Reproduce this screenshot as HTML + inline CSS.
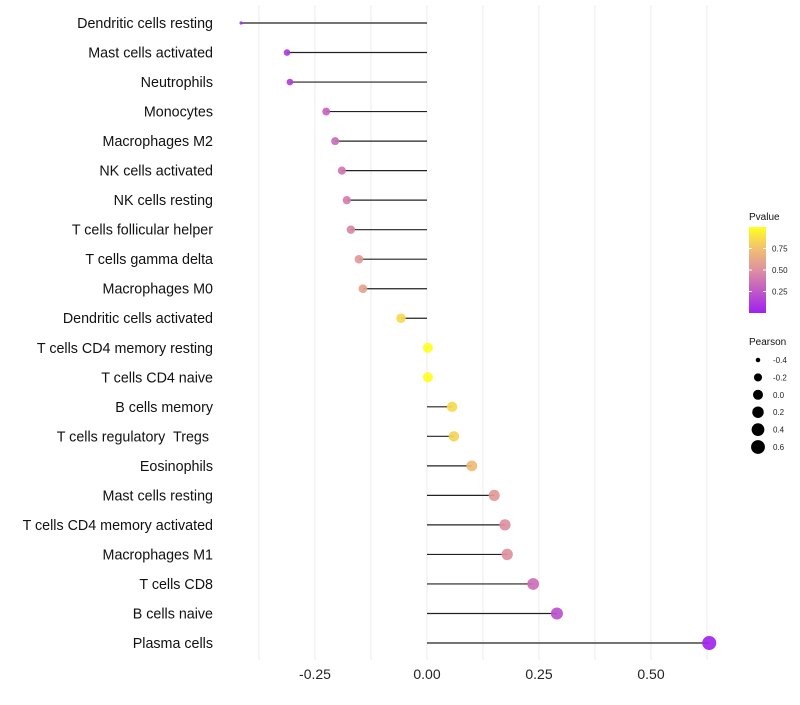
<!DOCTYPE html>
<html><head><meta charset="utf-8"><style>
body{margin:0;background:#fff;}
svg text{font-family:"Liberation Sans",sans-serif;white-space:pre;}
</style></head><body>
<svg id="chart" width="800" height="700" xmlns="http://www.w3.org/2000/svg">
<defs><linearGradient id="pg" x1="0" y1="1" x2="0" y2="0">
<stop offset="0" stop-color="#a020f0"/><stop offset="0.5" stop-color="#de90a0"/><stop offset="0.75" stop-color="#f2c070"/><stop offset="1" stop-color="#ffff20"/></linearGradient></defs>
<g id="grid"></g><g id="marks"></g><g id="labels"></g>
</svg>
<script>
const categories=["Dendritic cells resting","Mast cells activated","Neutrophils","Monocytes","Macrophages M2","NK cells activated","NK cells resting","T cells follicular helper","T cells gamma delta","Macrophages M0","Dendritic cells activated","T cells CD4 memory resting","T cells CD4 naive","B cells memory","T cells regulatory  Tregs ","Eosinophils","Mast cells resting","T cells CD4 memory activated","Macrophages M1","T cells CD8","B cells naive","Plasma cells"];
const pearson=[-0.415,-0.3125,-0.306,-0.225,-0.205,-0.19,-0.179,-0.17,-0.152,-0.143,-0.058,0.002,0.002,0.056,0.06,0.10,0.15,0.174,0.179,0.237,0.29,0.63];
const pvalue=[0.05,0.12,0.14,0.3,0.34,0.38,0.42,0.45,0.55,0.6,0.85,1.0,1.0,0.85,0.83,0.72,0.55,0.5,0.5,0.35,0.22,0.02];
const xTicks=[-0.25,0,0.25,0.5];
const xTickLabels=["-0.25","0.00","0.25","0.50"];
const sizeLegend=[-0.4,-0.2,0.0,0.2,0.4,0.6];
const colorTicks=[0.25,0.5,0.75];
const NS="http://www.w3.org/2000/svg";
const x=v=>427+v*448;
const y=i=>23+i*(620/21);
const pmin=Math.min(...pearson),pmax=Math.max(...pearson);
const r=v=>{const t=Math.max(0,(v-pmin)/(pmax-pmin));return 1.6+5.4*Math.sqrt(t);};
const stops=[[0,[160,32,240]],[0.5,[222,144,160]],[0.75,[242,192,112]],[1,[255,255,32]]];
function col(p){for(let k=1;k<stops.length;k++){if(p<=stops[k][0]){const a=stops[k-1],b=stops[k],t=(p-a[0])/(b[0]-a[0]);return "rgb("+a[1].map((c,j)=>Math.round(c+(b[1][j]-c)*t)).join(",")+")";}}return "rgb(255,255,32)";}
function el(t,a,parent){const e=document.createElementNS(NS,t);for(const k in a)e.setAttribute(k,a[k]);parent.appendChild(e);return e;}
const grid=document.getElementById('grid'),marks=document.getElementById('marks'),labels=document.getElementById('labels');
for(let g=-0.375;g<=0.63;g+=0.125){const l=el('line',{x1:x(g),x2:x(g),y1:5,y2:660,stroke:'#ebebeb','stroke-width':1},grid);

}
xTicks.forEach((v,i)=>{const t=el('text',{x:x(v),y:679,'text-anchor':'middle','font-size':14,fill:'#222'},labels);t.textContent=xTickLabels[i];

});
categories.forEach((c,i)=>{
const t=el('text',{x:213,y:y(i)+5,'text-anchor':'end','font-size':14.3,fill:'#111'},labels);t.textContent=c;


const l=el('line',{x1:x(0),x2:x(pearson[i]),y1:y(i),y2:y(i),stroke:'#222','stroke-width':1.2},marks);


const p=el('circle',{cx:x(pearson[i]),cy:y(i),r:r(pearson[i]),fill:col(pvalue[i]),'fill-opacity':0.92},marks);


});
const lg=el('g',{},labels);


el('text',{x:749,y:220,'font-size':10,fill:'#111'},lg).textContent="Pvalue";
el('rect',{x:749,y:227,width:17,height:86,fill:'url(#pg)'},lg);
colorTicks.forEach(v=>{const yy=313-v*86;el('line',{x1:749,x2:752,y1:yy,y2:yy,stroke:'#fff'},lg);el('line',{x1:763,x2:766,y1:yy,y2:yy,stroke:'#fff'},lg);
el('text',{x:772,y:yy+3,'font-size':8,fill:'#222'},lg).textContent=v.toFixed(2);});
const sg=el('g',{},labels);


el('text',{x:749,y:345,'font-size':10,fill:'#111'},sg).textContent="Pearson";
sizeLegend.forEach((v,i)=>{const yy=360+i*17.4;el('circle',{cx:758,cy:yy,r:r(v),fill:'#000'},sg);
el('text',{x:773,y:yy+3,'font-size':8,fill:'#222'},sg).textContent=v.toFixed(1);});
</script>
</body></html>
